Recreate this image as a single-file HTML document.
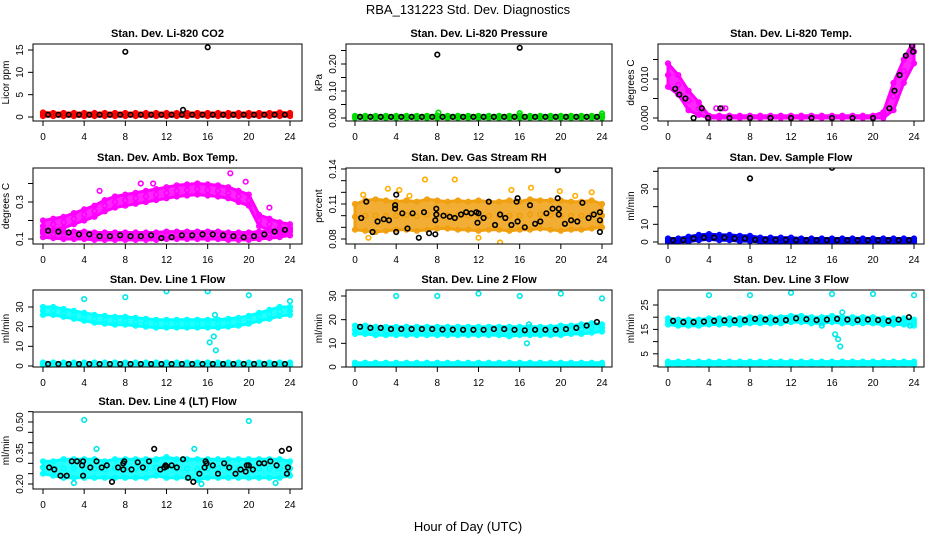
<!DOCTYPE html>
<html><head><meta charset="utf-8">
<style>
html,body{margin:0;padding:0;background:#fff;}
svg{display:block;font-family:"Liberation Sans",Arial,sans-serif;}
</style></head>
<body>
<svg id="chart" width="936" height="540" viewBox="0 0 936 540">
<text x="468" y="14" text-anchor="middle" font-size="13">RBA_131223  Std. Dev. Diagnostics</text>
<text x="468" y="531" text-anchor="middle" font-size="13">Hour of Day (UTC)</text>
</svg>
<script>
// ---- data arrays ----
const hours = [0,1,2,3,4,5,6,7,8,9,10,11,12,13,14,15,16,17,18,19,20,21,22,23,24];
const blackHours = [0.5,1.5,2.5,3.5,4.5,5.5,6.5,7.5,8.5,9.5,10.5,11.5,12.5,13.5,14.5,15.5,16.5,17.5,18.5,19.5,20.5,21.5,22.5,23.5];

// P1 CO2
const co2Lo = [0.2,0.2,0.2,0.2,0.2,0.2,0.2,0.2,0.2,0.2,0.2,0.2,0.2,0.2,0.2,0.2,0.2,0.2,0.2,0.2,0.2,0.2,0.2,0.2,0.2];
const co2Hi = [1.0,0.9,0.9,0.9,0.9,0.9,0.9,0.9,0.9,0.9,0.9,0.9,0.9,0.9,0.9,0.9,0.9,0.9,0.9,0.9,0.9,0.9,0.9,1.0,0.9];
const co2Black = [0.5,0.5,0.5,0.5,0.5,0.5,0.5,0.5,0.5,0.5,0.5,0.5,0.5,0.5,0.5,0.5,0.5,0.5,0.5,0.5,0.5,0.5,0.5,0.5];
const co2OutX = [8,16,13.6];
const co2OutY = [14.6,15.6,1.6];

// P2 Pressure
const presLo = [0,0,0,0,0,0,0,0,0,0,0,0,0,0,0,0,0,0,0,0,0,0,0,0,0];
const presHi = [0.008,0.008,0.008,0.008,0.008,0.008,0.008,0.008,0.01,0.008,0.008,0.008,0.008,0.008,0.008,0.008,0.01,0.008,0.008,0.008,0.008,0.008,0.008,0.008,0.01];
const presBlack = [0.004,0.004,0.004,0.004,0.004,0.004,0.004,0.004,0.004,0.004,0.004,0.004,0.004,0.004,0.004,0.004,0.004,0.004,0.004,0.004,0.004,0.004,0.004,0.004];
const presOutX = [8,16,8.1,16,24];
const presOutY = [0.235,0.26,0.02,0.018,0.017];
const presOutC = ['#000','#000','#00dd00','#00dd00','#00dd00'];

// P3 Temp
const tempLo = [0.008,0.006,0.002,0.0008,0,0,0,0,0,0,0,0,0,0,0,0,0,0,0,0,0,0,0.002,0.009,0.014];
const tempHi = [0.014,0.011,0.007,0.004,0.0006,0.0006,0.0006,0.0006,0.0006,0.0006,0.0006,0.0006,0.0006,0.0006,0.0006,0.0006,0.0006,0.0006,0.0006,0.0006,0.0006,0.0015,0.009,0.015,0.02];
const tempBlackX = [0.7,1.1,1.7,3.3,5.1,21.6,22.1,22.6,23.2,23.8,23.9,2.5,3.9,6,8,10,12,14,16,18,20];
const tempBlackY = [0.0075,0.006,0.005,0.0025,0.0025,0.0025,0.007,0.011,0.016,0.0185,0.017,0,0,0,0,0,0,0,0,0,0];
const tempExtraX = [4.7,5.3,5.6];
const tempExtraY = [0.0025,0.0025,0.0025];

// P4 Amb box temp
const ambHiC = [0.17,0.18,0.19,0.21,0.23,0.25,0.28,0.30,0.31,0.32,0.33,0.34,0.35,0.36,0.365,0.37,0.365,0.36,0.35,0.33,0.31,0.20,0.18,0.16,0.15];
const ambLoC = [0.13,0.125,0.12,0.12,0.12,0.115,0.115,0.115,0.115,0.115,0.115,0.115,0.12,0.12,0.12,0.12,0.12,0.12,0.115,0.115,0.115,0.12,0.125,0.13,0.14];
const ambBlack = [0.145,0.14,0.135,0.125,0.125,0.115,0.115,0.12,0.115,0.115,0.12,0.105,0.11,0.12,0.12,0.125,0.125,0.12,0.115,0.11,0.115,0.125,0.14,0.15];
const ambOutX = [18.2,9.5,10.7,19.7,22,5.5];
const ambOutY = [0.455,0.4,0.4,0.41,0.27,0.36];

// P5 RH
const rhLo = [0.088,0.087,0.086,0.087,0.088,0.088,0.087,0.088,0.089,0.089,0.088,0.088,0.087,0.088,0.088,0.087,0.088,0.088,0.089,0.088,0.087,0.088,0.088,0.089,0.090];
const rhHi = [0.110,0.113,0.114,0.113,0.112,0.113,0.112,0.114,0.113,0.112,0.113,0.112,0.113,0.112,0.112,0.113,0.112,0.114,0.113,0.113,0.113,0.112,0.112,0.113,0.110];
const rhBlackX = [0.6,1.1,1.7,2.2,2.8,3.3,3.9,3.9,4.0,4.0,4.6,5.1,5.6,6.2,6.7,7.2,7.8,7.8,7.9,7.9,8.6,9.2,9.7,10.3,10.8,11.3,11.8,11.9,12.0,12.5,13.0,13.6,14.1,14.6,15.2,15.7,15.8,15.8,16.5,17.0,17.5,18.0,18.6,19.2,19.7,19.7,19.8,19.8,20.4,21.0,21.6,22.1,22.7,23.2,23.8,23.8,23.8];
const rhBlackY = [0.098,0.112,0.086,0.095,0.097,0.096,0.109,0.106,0.118,0.086,0.102,0.089,0.102,0.081,0.103,0.085,0.084,0.096,0.101,0.106,0.100,0.099,0.098,0.101,0.103,0.102,0.103,0.094,0.102,0.098,0.112,0.092,0.101,0.098,0.092,0.112,0.115,0.095,0.090,0.109,0.093,0.095,0.102,0.106,0.139,0.115,0.101,0.106,0.093,0.096,0.095,0.111,0.098,0.101,0.103,0.096,0.086];
const rhOutX = [1.3,3.2,4.3,6.8,9.7,12.0,14.1,17.1,19.9,23.0,0.8,5.3,15.2,21.4];
const rhOutY = [0.081,0.123,0.122,0.131,0.131,0.081,0.077,0.124,0.121,0.120,0.118,0.117,0.122,0.117];

// P6 Sample flow
const sfLo = [0,0,0.2,1,1.5,1,1,0.5,0.5,0,0,0,0,0,0,0,0,0,0,0,0,0,0,0,0];
const sfHi = [2,2,3,4,4.5,4,4,3.5,3.5,2.5,2.5,2.5,2.5,2,2,2,2,2,2,2,2,2,2,2,2];
const sfBlack = [1,1,2,2.5,2.5,2.5,2,2,1.2,1.2,1.2,1.2,1,1,1,1,1,1,1,1,1,1,1,1];
const sfOutX = [8,16];
const sfOutY = [36,42];

// P7 Line 1
const l1Hi = [30,30,29,28,27,26,25.5,25,25,24.5,24,23.5,23.5,23.5,23.5,23.5,23.5,23.5,24,24.5,25.5,27,28.5,30,30];
const l1Lo = [26,26,25,24,23,22,21.5,21,21,20.5,20,19.5,19.5,19.5,19.5,19.5,19.5,19.5,20,20.5,21.5,23,24,25.5,26];
const lowLo = [0.5,0.5,0.5,0.5,0.5,0.5,0.5,0.5,0.5,0.5,0.5,0.5,0.5,0.5,0.5,0.5,0.5,0.5,0.5,0.5,0.5,0.5,0.5,0.5,0.5];
const lowHi = [1.8,1.8,1.8,1.8,1.8,1.8,1.8,1.8,1.8,1.8,1.8,1.8,1.8,1.8,1.8,1.8,1.8,1.8,1.8,1.8,1.8,1.8,1.8,1.8,1.8];
const l1Black = [1,1,1,1,1,1,1,1,1,1,1,1,1,1,1,1,1,1,1,1,1,1,1,1];
const l1OutX = [4,8,12,16,20,24,16.2,16.6,16.8,16.7];
const l1OutY = [34,35,38,38,36,33,12,15,8,26];

// P8 Line 2
const l2Hi = [17.5,17.5,17,17,17,17,17,17,17,17,17,17,17,17,17,17,17,17,17,17,17.5,17.5,18,18.5,18];
const l2Lo = [14,14,13.5,13.5,13.5,13.5,13.5,13.5,13.5,13.5,13.5,13.5,13.5,13.5,13.5,13,13.5,13.5,13.5,13.5,13.5,14,14,14.5,15];
const l2Black = [17,16.5,16.5,16,16,16,16,16,15.8,15.8,15.7,15.7,15.7,16,16,15.7,15.5,15.7,15.7,15.7,16,16.5,17.5,19];
const l2OutX = [4,8,12,16,20,24,16.7,16.9];
const l2OutY = [30,30,31,30,31,29,10,18];

// P9 Line 3
const l3Hi = [19.5,19,19,19,19.5,19.5,19.5,19.5,20,20,20,20,20.5,20.5,20,20,20.5,20,20,20,20,19.5,19.5,19.5,19];
const l3Lo = [17,16.5,16.5,16.5,17,17,17,17,17.5,17.5,17.5,17.5,18,18,17.5,17.5,18,17.5,17.5,17.5,17.5,17,17,17,16.5];
const l3Black = [18.5,18,18,18.2,18.5,18.7,18.7,18.8,19.3,19,18.8,18.8,19.5,19.2,18.8,19,19.3,19,18.8,19,18.8,18.5,19,20];
const l3OutX = [4,8,12,16,20,24,15,16.3,16.6,16.8,17,23.6];
const l3OutY = [29,29,30,29.5,29.5,29,16.5,13,11,8,22,16.5];

// P10 Line 4
const l4Hi = [0.31,0.31,0.32,0.32,0.32,0.32,0.31,0.32,0.32,0.32,0.32,0.32,0.33,0.32,0.32,0.32,0.32,0.32,0.32,0.32,0.32,0.32,0.32,0.32,0.31];
const l4Lo = [0.25,0.24,0.23,0.23,0.23,0.23,0.23,0.23,0.23,0.23,0.23,0.24,0.23,0.23,0.23,0.22,0.23,0.23,0.23,0.23,0.23,0.23,0.23,0.23,0.24];
const l4BlackX = [0.6,1.1,1.7,2.3,2.8,3.3,3.9,3.8,3.9,4.6,5.2,5.7,6.2,6.7,7.3,7.8,7.9,7.8,8.6,9.2,9.7,10.3,10.8,11.4,11.8,11.9,12.0,12.5,13.0,13.6,14.1,14.6,15.2,15.7,15.8,15.9,16.5,17.0,17.6,18.1,18.7,19.2,19.7,19.8,20.0,20.4,21.0,21.5,22.1,22.7,23.2,23.7,23.8,23.9];
const l4BlackY = [0.28,0.27,0.24,0.24,0.31,0.31,0.31,0.29,0.24,0.28,0.31,0.28,0.29,0.21,0.28,0.30,0.31,0.27,0.27,0.305,0.28,0.31,0.37,0.27,0.28,0.29,0.285,0.29,0.28,0.32,0.23,0.21,0.25,0.28,0.31,0.30,0.29,0.25,0.30,0.28,0.25,0.27,0.26,0.29,0.29,0.27,0.30,0.30,0.31,0.29,0.36,0.25,0.28,0.37];
const l4OutX = [4,12,20,5.2,14.7,3,15.4,22.6];
const l4OutY = [0.51,0.565,0.505,0.37,0.37,0.205,0.2,0.205];

// ---- rendering ----
const NS = 'http://www.w3.org/2000/svg';
const svg = document.getElementById('chart');
const colsL = [33,346,658], colsR = [302,612,924], colsX0 = [43,355,668], colsX24 = [290,602,914];
const rowsT = [44,168,290,412], rowsB = [121,244,367,489];

function mk(tag, attrs, parent) {
  const e = document.createElementNS(NS, tag);
  for (const k in attrs) e.setAttribute(k, attrs[k]);
  (parent || svg).appendChild(e);
  return e;
}

const panels = [
 {title:'Stan. Dev. Li-820 CO2', ylab:'Licor ppm', c:0, r:0, v1:0,p1:117,v2:15,p2:50, ticks:[0,5,10,15], labs:['0','5','10','15'],
  bands:[[co2Lo,co2Hi,'#ff0000']], black:[blackHours,co2Black], out:[[co2OutX,co2OutY,'#000']]},
 {title:'Stan. Dev. Li-820 Pressure', ylab:'kPa', c:1, r:0, v1:0,p1:118,v2:0.2,p2:64, ticks:[0,0.05,0.1,0.15,0.2,0.25], labs:['0.00','','0.10','','0.20',''],
  bands:[[presLo,presHi,'#00dd00']], black:[blackHours,presBlack], out:[[presOutX,presOutY,presOutC]]},
 {title:'Stan. Dev. Li-820 Temp.', ylab:'degrees C', c:2, r:0, v1:0,p1:118,v2:0.01,p2:79, ticks:[0,0.005,0.01,0.015], labs:['0.000','','0.010',''],
  bands:[[tempLo,tempHi,'#ff00ff']], black:[tempBlackX,tempBlackY], out:[[tempExtraX,tempExtraY,'#ff00ff']]},
 {title:'Stan. Dev. Amb. Box Temp.', ylab:'degrees C', c:0, r:1, v1:0.1,p1:239,v2:0.3,p2:202, ticks:[0.1,0.2,0.3,0.4], labs:['0.1','','0.3',''],
  bands:[[ambHiC.map(v=>v-0.03),ambHiC.map(v=>v+0.03),'#ff00ff'],[ambLoC.map(v=>v-0.02),ambLoC.map(v=>v+0.02),'#ff00ff']], black:[blackHours,ambBlack], out:[[ambOutX,ambOutY,'#ff00ff']]},
 {title:'Stan. Dev. Gas Stream RH', ylab:'percent', c:1, r:1, v1:0.08,p1:239,v2:0.14,p2:169, ticks:[0.08,0.09,0.1,0.11,0.12,0.13,0.14], labs:['0.08','','','0.11','','','0.14'],
  bands:[[rhLo,rhHi,'#f0a010']], black:[rhBlackX,rhBlackY], out:[[rhOutX,rhOutY,'#ffb000']]},
 {title:'Stan. Dev. Sample Flow', ylab:'ml/min', c:2, r:1, v1:0,p1:242,v2:30,p2:189, ticks:[0,10,20,30,40], labs:['0','10','','30',''],
  bands:[[sfLo,sfHi,'#0000ff']], black:[blackHours,sfBlack], out:[[sfOutX,sfOutY,'#000']]},
 {title:'Stan. Dev. Line 1 Flow', ylab:'ml/min', c:0, r:2, v1:0,p1:366,v2:30,p2:307, ticks:[0,10,20,30], labs:['0','10','20','30'],
  bands:[[l1Lo,l1Hi,'#00ffff'],[lowLo,lowHi,'#00ffff']], black:[blackHours,l1Black], out:[[l1OutX,l1OutY,'#00e8e8']]},
 {title:'Stan. Dev. Line 2 Flow', ylab:'ml/min', c:1, r:2, v1:0,p1:367,v2:30,p2:296, ticks:[0,10,20,30], labs:['0','10','20','30'],
  bands:[[l2Lo,l2Hi,'#00ffff'],[lowLo,lowHi,'#00ffff']], black:[blackHours,l2Black], out:[[l2OutX,l2OutY,'#00e8e8']]},
 {title:'Stan. Dev. Line 3 Flow', ylab:'ml/min', c:2, r:2, v1:0,p1:366,v2:25,p2:305, ticks:[0,5,10,15,20,25], labs:['','5','','15','','25'],
  bands:[[l3Lo,l3Hi,'#00ffff'],[lowLo,lowHi,'#00ffff']], black:[blackHours,l3Black], out:[[l3OutX,l3OutY,'#00e8e8']]},
 {title:'Stan. Dev. Line 4 (LT) Flow', ylab:'ml/min', c:0, r:3, v1:0.2,p1:484,v2:0.5,p2:422, ticks:[0.2,0.25,0.3,0.35,0.4,0.45,0.5,0.55], labs:['0.20','','','0.35','','','0.50',''],
  bands:[[l4Lo,l4Hi,'#00ffff']], black:[l4BlackX,l4BlackY], out:[[l4OutX,l4OutY,'#00e8e8']]}
];

function pt(g, x, y, color) {
  const c = mk('circle', {cx:x.toFixed(1), cy:y.toFixed(1), r:2.3, fill:'none', stroke:color, 'stroke-width':1.6}, g);
  
  
}

panels.forEach((p, i) => {
  const L = colsL[p.c], R = colsR[p.c], T = rowsT[p.r], B = rowsB[p.r];
  const xs = h => colsX0[p.c] + (colsX24[p.c] - colsX0[p.c]) * h / 24;
  const ys = v => p.p1 + (v - p.v1) * (p.p2 - p.p1) / (p.v2 - p.v1);
  const g = mk('g', {});
  
  
  const clipId = 'clip' + i;
  const cp = mk('clipPath', {id: clipId}, g);
  mk('rect', {x:L, y:T, width:R-L, height:B-T}, cp);
  const plot = mk('g', {'clip-path':'url(#' + clipId + ')'}, g);
  
  
  // bands (dense point clouds)
  p.bands.forEach(b => {
    const lo = b[0], hi = b[1], col = b[2];
    let d = '';
    hours.forEach((h, k) => { d += (k ? 'L' : 'M') + xs(h).toFixed(1) + ',' + ys(hi[k]).toFixed(1); });
    for (let k = hours.length - 1; k >= 0; k--) d += 'L' + xs(hours[k]).toFixed(1) + ',' + ys(lo[k]).toFixed(1);
    const band = mk('path', {d: d + 'Z', fill: col, 'fill-opacity': 0.85, stroke: col, 'stroke-width': 3, 'stroke-linejoin':'round'}, plot);
    
    
    hours.forEach((h, k) => { pt(plot, xs(h), ys(hi[k]), col); pt(plot, xs(h), ys(lo[k]), col); pt(plot, xs(h), ys((hi[k] + lo[k]) / 2), col); });
  });
  // colored outliers
  p.out.forEach(o => {
    o[0].forEach((h, k) => pt(plot, xs(h), ys(o[1][k]), Array.isArray(o[2]) ? o[2][k] : o[2]));
  });
  // black series
  p.black[0].forEach((h, k) => pt(plot, xs(h), ys(p.black[1][k]), '#000'));
  // frame
  const fr = mk('rect', {x:L, y:T, width:R-L, height:B-T, fill:'none', stroke:'#000', 'stroke-width':1}, g);
  
  
  // x axis
  [0,4,8,12,16,20,24].forEach(h => {
    mk('line', {x1:xs(h), x2:xs(h), y1:B, y2:B+5, stroke:'#000'}, g);
    const t = mk('text', {x:xs(h), y:B+19, 'text-anchor':'middle', 'font-size':10}, g);
    t.textContent = h;
    
    
  });
  // y axis
  p.ticks.forEach((v, k) => {
    const y = ys(v);
    if (y < T - 1 || y > B + 1) return;
    mk('line', {x1:L-5, x2:L, y1:y, y2:y, stroke:'#000'}, g);
    if (p.labs[k]) {
      const t = mk('text', {x:L-10, y:y, 'text-anchor':'middle', 'font-size':10, transform:'rotate(-90 ' + (L-10) + ' ' + y + ')'}, g);
      t.textContent = p.labs[k];
      
      
    }
  });
  const yl = mk('text', {x:L-24, y:(T+B)/2, 'text-anchor':'middle', 'font-size':10, transform:'rotate(-90 ' + (L-24) + ' ' + ((T+B)/2) + ')'}, g);
  yl.textContent = p.ylab;
  
  
  const tt = mk('text', {x:(L+R)/2, y:T-7, 'text-anchor':'middle', 'font-size':11, 'font-weight':'bold'}, g);
  tt.textContent = p.title;
  
  
});
</script>
</body></html>
